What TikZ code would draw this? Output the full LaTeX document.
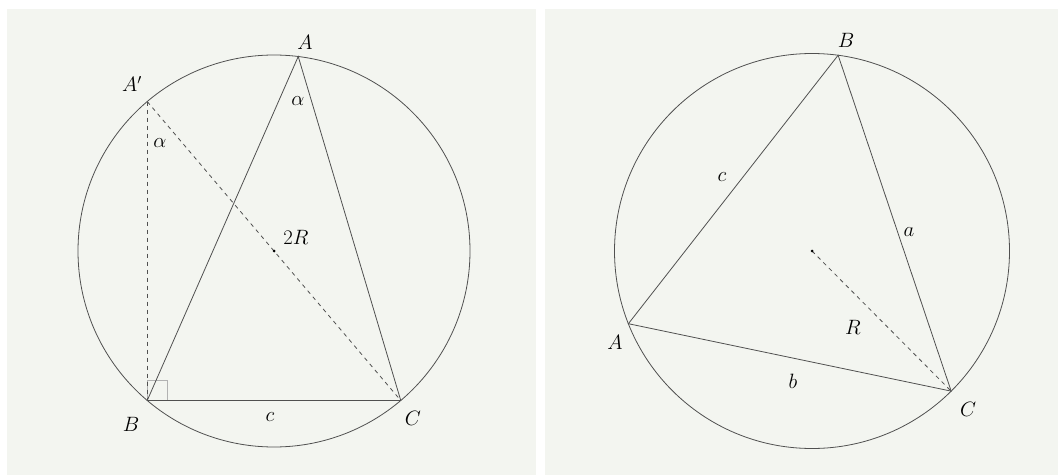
\documentclass[tikz,border=0pt]{standalone}
\usetikzlibrary{calc}
\definecolor{panelbg}{HTML}{F3F5F0}
\definecolor{ink}{HTML}{505050}
\begin{document}
\begin{tikzpicture}[x=1pt,y=1pt,
  edge/.style={draw=ink,line width=0.8pt},
  dashedge/.style={draw=ink,line width=0.8pt,dash pattern=on 4pt off 4pt},
  lbl/.style={inner sep=0pt,font=\fontsize{21}{25}\selectfont},
  centerdot/.style={circle,fill=black,inner sep=0pt,minimum size=3pt}]
\useasboundingbox (0,0) rectangle (1062,475);
\fill[white] (0,0) rectangle (1062,475);
\fill[panelbg] (7,0) rectangle (536,466);
\fill[panelbg] (545,0) rectangle (1058,466);
% ---------- left panel ----------
\coordinate (O1) at (274,224);
\coordinate (A) at ($(O1)+(82.9:196)$);
\coordinate (Ap) at ($(O1)+(130.3:196)$);
\coordinate (B) at ($(O1)+(229.7:196)$);
\coordinate (C) at ($(O1)+(310.3:196)$);
\draw[edge] (O1) circle[radius=196];
\draw[draw=black!30,line width=0.8pt] (B) rectangle ($(B)+(20,20)$);
\draw[dashedge] (Ap) -- (B);
\draw[dashedge] (Ap) -- (C);
\draw[edge] (A) -- (B) -- (C) -- cycle;
\node[centerdot] (O1dot) at (O1) {};
\node[lbl] (lA) at (305,433) {$A$};
\node[lbl] (lAp) at (132,391) {$A'$};
\node[lbl] (lalpha1) at (298,374) {$\alpha$};
\node[lbl] (lalpha2) at (160,332) {$\alpha$};
\node[lbl] (l2R) at (296,238) {$2R$};
\node[lbl] (lB) at (131,51) {$B$};
\node[lbl] (lC) at (413,57) {$C$};
\node[lbl] (lc) at (270,58) {$c$};
% ---------- right panel ----------
\coordinate (O2) at (812,224);
\coordinate (B2) at ($(O2)+(82.4:197.5)$);
\coordinate (A2) at ($(O2)+(201.6:197.5)$);
\coordinate (C2) at ($(O2)+(-45.2:197.5)$);
\draw[edge] (O2) circle[radius=197.5];
\draw[dashedge] (O2) -- (C2);
\draw[edge] (A2) -- (B2) -- (C2) -- cycle;
\node[centerdot] (O2dot) at (O2) {};
\node[lbl] (lB2) at (846,435) {$B$};
\node[lbl] (lA2) at (615,133) {$A$};
\node[lbl] (lC2) at (968,66) {$C$};
\node[lbl] (lc2) at (722,298) {$c$};
\node[lbl] (la2) at (909,243) {$a$};
\node[lbl] (lb2) at (793,94) {$b$};
\node[lbl] (lR2) at (853,148) {$R$};
\end{tikzpicture}
\end{document}
